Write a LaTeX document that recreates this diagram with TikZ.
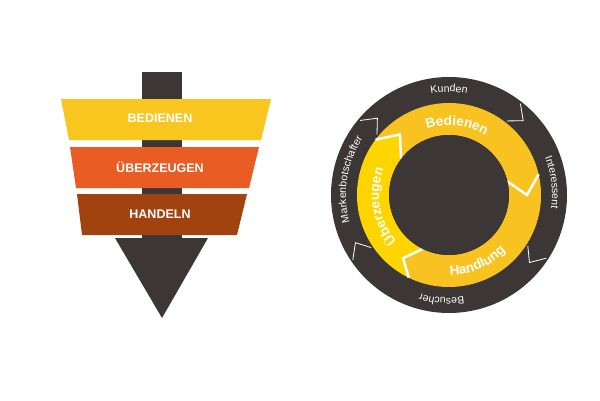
\documentclass[tikz,border=0pt]{standalone}
\usepackage{fontspec}
\setmainfont{Liberation Sans}
\usepackage{tikz}
\usetikzlibrary{decorations.text}
\definecolor{dunkel}{HTML}{3C3736}
\definecolor{gelb}{HTML}{F9C51F}
\definecolor{rotorange}{HTML}{E95D24}
\definecolor{braun}{HTML}{A1430F}
\definecolor{ringgelb}{HTML}{F8C320}
\definecolor{hellgelb}{HTML}{FFD500}

\begin{document}
\begin{tikzpicture}[x=1pt, y=1pt,
  stufe/.style={font=\bfseries\fontsize{12.5}{14}\selectfont, text=white},
  trenner/.style={white, line width=2.5pt},
  kerbe/.style={white, line width=0.8pt},
  innen/.style={decorate, decoration={text along path, text align=center,
    text={|\color{white}\bfseries\fontsize{13.5}{15}\selectfont|#1}}},
  aussen/.style={decorate, decoration={text along path, text align=center,
    text={|\color{white}\fontsize{10.5}{12}\selectfont|#1}}}]
\useasboundingbox (0,0) rectangle (600,400);
% Trichter
\fill[dunkel] (142,328) rectangle (182,160);
\fill[dunkel] (115,162) -- (208,162) -- (162,82) -- cycle;
\fill[gelb] (61,301) -- (271,301) -- (261,260) -- (69,260) -- cycle;
\fill[rotorange] (70,253) -- (259,253) -- (249,212) -- (76,212) -- cycle;
\fill[braun] (77,206) -- (247,206) -- (237,165) -- (82,165) -- cycle;
\node[stufe] (bedienen) at (160,282) {BEDIENEN};
\node[stufe] (ueberzeugen) at (160,233) {ÜBERZEUGEN};
\node[stufe] (handeln) at (160,186) {HANDELN};
% Kreislauf
\begin{scope}[shift={(449,205)}]
\fill[dunkel] (0,0) circle[radius=118];
\fill[ringgelb] (143:92) arc[start angle=143, end angle=13, radius=92] -- (0:78) -- (13:60)
  arc[start angle=13, end angle=143, radius=60] -- (129:78) -- cycle;
\fill[ringgelb] (13:92) arc[start angle=13, end angle=-116, radius=92] -- (-126:78) -- (-116:60)
  arc[start angle=-116, end angle=13, radius=60] -- (0:78) -- cycle;
\fill[hellgelb] (244:92) arc[start angle=244, end angle=143, radius=92] -- (129:78) -- (143:60)
  arc[start angle=143, end angle=244, radius=60] -- (234:78) -- cycle;
\foreach \e/\t in {143/129, 13/0, 244/234}
  \draw[trenner] (\e:92) -- (\t:78) -- (\e:60);
\fill[dunkel] (0,0) circle[radius=60];
\foreach \a in {45,-40,207,133}
  \draw[kerbe] ({\a+7}:116) -- (\a:105) -- ({\a+7}:94);
\path[innen=Bedienen] (143.5:70) arc[start angle=143.5, end angle=23.5, radius=70];
\path[innen=Handlung] (-127:80) arc[start angle=-127, end angle=-7, radius=80];
\path[innen=Überzeugen] (250:70) arc[start angle=250, end angle=130, radius=70];
\path[aussen=Kunden] (140:103) arc[start angle=140, end angle=40, radius=103];
\path[aussen=Interessent] (57:103) arc[start angle=57, end angle=-43, radius=103];
\path[aussen=Markenbotschafter] (241:103) arc[start angle=241, end angle=101, radius=103];
\path[aussen=Besucher] (316:103) arc[start angle=316, end angle=216, radius=103];
\end{scope}
\end{tikzpicture}
\end{document}
